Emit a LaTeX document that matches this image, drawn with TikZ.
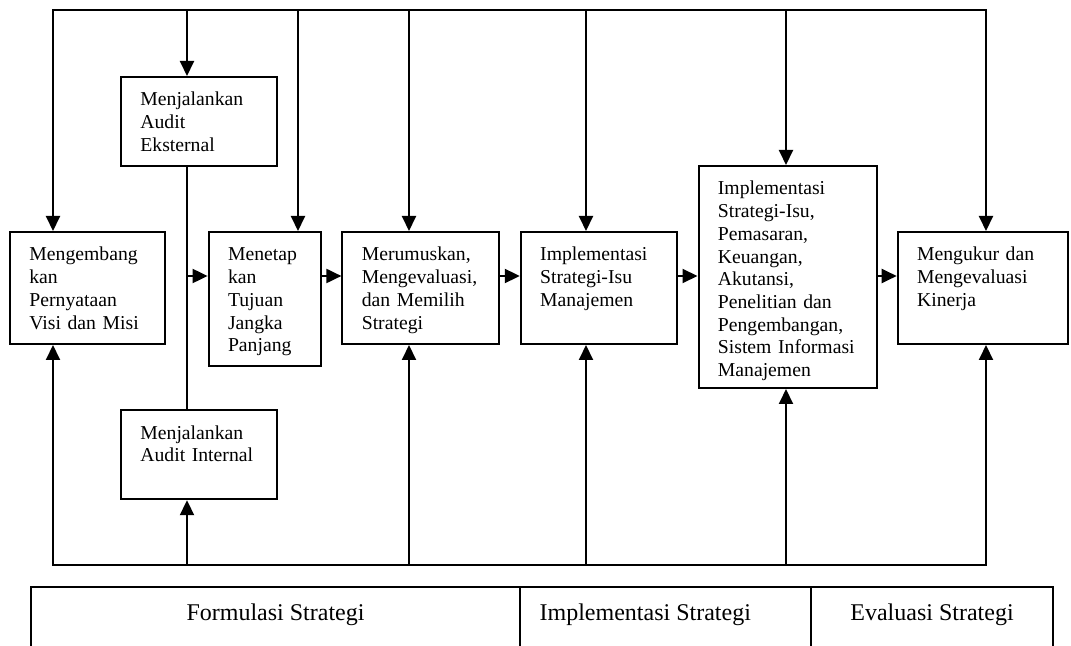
\documentclass[tikz,border=0pt]{standalone}
\usepackage{fontspec}
\setmainfont{Liberation Serif}
\usetikzlibrary{positioning,arrows.meta}

\newcommand{\boxfont}{\fontsize{9.85pt}{11.35pt}\selectfont}
\newcommand{\phasefont}{\fontsize{12pt}{14pt}\selectfont}

\tikzset{
  stage/.style={draw, line width=1pt, anchor=north west, align=left,
    inner xsep=9.7pt, inner ysep=5pt, text height=9.5pt, font=\boxfont},
  phase/.style={anchor=base, font=\phasefont, inner sep=0pt},
}

\begin{document}
\begin{tikzpicture}[line width=1pt, >={Triangle[length=7.5pt,width=7pt]}]
   \useasboundingbox (0,0) rectangle (535.5pt,-323pt);
   % boxes
   \node[stage, text width=58.1pt, text depth=36.5pt] (visi) at (4.5pt,-115.5pt)
      {Mengembang\\kan\\Pernyataan\\Visi dan Misi};
   \node[stage, text width=58.4pt, text depth=25pt] (eksternal) at (60pt,-38pt)
      {Menjalankan\\Audit\\Eksternal};
   \node[stage, text width=58.4pt, text depth=25pt] (internal) [below=121.1pt of eksternal.south west, anchor=north west]
      {Menjalankan\\Audit Internal};
   \node[stage, text width=36.6pt, text depth=47.5pt] (tujuan) [right=20.8pt of visi.north east, anchor=north west]
      {Menetap\\kan\\Tujuan\\Jangka\\Panjang};
   \node[stage, text width=58.8pt, text depth=36.5pt] (pilih) [right=9.9pt of tujuan.north east, anchor=north west]
      {Merumuskan,\\Mengevaluasi,\\dan Memilih\\Strategi};
   \node[stage, text width=58.45pt, text depth=36.5pt] (manaj) [right=10pt of pilih.north east, anchor=north west]
      {Implementasi\\Strategi-Isu\\Manajemen};
   \node[stage, text width=69.6pt, text depth=91.5pt] (fungsi) [above right=33pt and 10pt of manaj.north east, anchor=north west]
      {Implementasi\\Strategi-Isu,\\Pemasaran,\\Keuangan,\\Akutansi,\\Penelitian dan\\Pengembangan,\\Sistem Informasi\\Manajemen};
   \node[stage, text width=65.6pt, text depth=36.5pt] (kinerja) [below right=33pt and 9.6pt of fungsi.north east, anchor=north west]
      {Mengukur dan\\Mengevaluasi\\Kinerja};

   % feedback lines
   \coordinate (row) at (0,-138pt);
   \coordinate (ta) at (26.5pt,-5pt);
   \coordinate (tb) at (93.5pt,-5pt);
   \coordinate (tc) at (149pt,-5pt);
   \coordinate (td) at (204.5pt,-5pt);
   \coordinate (te) at (293pt,-5pt);
   \coordinate (tf) at (393pt,-5pt);
   \coordinate (tg) at (493pt,-5pt);
   \coordinate (ba) at (26.5pt,-282.5pt);
   \coordinate (bg) at (493pt,-282.5pt);

   \draw[<->] (visi.north -| ta) |- (tg) -- (kinerja.north -| tg);
   \draw[<->] (visi.south -| ba) |- (bg) -- (kinerja.south -| bg);
   \draw (tb |- eksternal.south) -- (tb |- internal.north);

    \path[->]
    (tb) edge (tb |- eksternal.north)
    (tc) edge (tc |- tujuan.north)
    (td) edge (td |- pilih.north)
    (te) edge (te |- manaj.north)
    (tf) edge (tf |- fungsi.north)
    (tb |- ba) edge (tb |- internal.south)
    (td |- ba) edge (td |- pilih.south)
    (te |- ba) edge (te |- manaj.south)
    (tf |- ba) edge (tf |- fungsi.south)
    (tb |- row) edge (tujuan.west |- row)
    (tujuan.east |- row) edge (pilih.west |- row)
    (pilih.east |- row) edge (manaj.west |- row)
    (manaj.east |- row) edge (fungsi.west |- row)
    (fungsi.east |- row) edge (kinerja.west |- row);

   % phases
   \draw (15.5pt,-323pt) |- (526.35pt,-293.5pt) -- (526.35pt,-323pt);
   \draw (260pt,-293.5pt) -- (260pt,-323pt);
   \draw (405.5pt,-293.5pt) -- (405.5pt,-323pt);
   \node[phase] (formulasi) at (137.75pt,-310pt) {Formulasi Strategi};
   \node[phase, anchor=base west] (implementasi) at (269.3pt,-310pt) {Implementasi Strategi};
   \node[phase] (evaluasi) at (466pt,-310pt) {Evaluasi Strategi};
\end{tikzpicture}
\end{document}
